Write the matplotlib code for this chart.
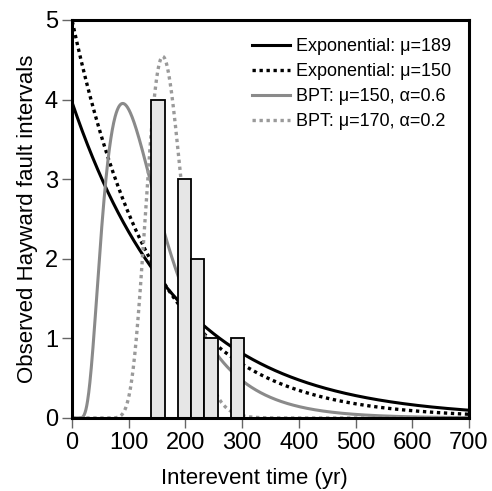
import numpy as np
import matplotlib
matplotlib.use("Agg")
import matplotlib.pyplot as plt

plt.rcParams['font.family'] = ['Liberation Sans', 'DejaVu Sans']

# Observed interval histogram (bins of 700/30 yr)
bin_width = 700 / 30
bar_left = [140, 186.67, 210, 233.33, 280]
bar_counts = [4, 3, 2, 1, 1]

# Model curves: means, BPT aperiodicity, vertical scale
exp_means = [189, 150]
exp_scale = [750, 750]
bpt_means = [150, 170]
bpt_alphas = [0.6, 0.2]
bpt_scale = [600, 370]

t = np.linspace(0.5, 700, 1400)


def bpt_pdf(t, mu, a):
    return np.sqrt(mu / (2 * np.pi * a**2 * t**3)) * np.exp(-(t - mu)**2 / (2 * mu * a**2 * t))


fig = plt.figure(figsize=(4.92, 4.91), dpi=100)
ax = fig.add_axes([72 / 492, 1 - 418 / 491, 397 / 492, 398 / 491])

ax.plot(t, exp_scale[0] / exp_means[0] * np.exp(-t / exp_means[0]),
        color='black', lw=2.2, label=f"Exponential: \u03bc={exp_means[0]}")
ax.plot(t, exp_scale[1] / exp_means[1] * np.exp(-t / exp_means[1]),
        color='black', lw=2.4, ls=(0, (1, 1.1)), label=f"Exponential: \u03bc={exp_means[1]}")
ax.plot(t, bpt_scale[0] * bpt_pdf(t, bpt_means[0], bpt_alphas[0]),
        color='#8a8a8a', lw=2.2, label=f"BPT: \u03bc={bpt_means[0]}, \u03b1={bpt_alphas[0]}")
ax.plot(t, bpt_scale[1] * bpt_pdf(t, bpt_means[1], bpt_alphas[1]),
        color='#9a9a9a', lw=2.4, ls=(0, (1, 1.1)), label=f"BPT: \u03bc={bpt_means[1]}, \u03b1={bpt_alphas[1]}")

ax.bar(bar_left, bar_counts, width=bin_width, align='edge',
       color='#e6e6e6', edgecolor='black', linewidth=1.3, zorder=3)

ax.set_xlim(0, 700)
ax.set_ylim(0, 5)
ax.set_xticks(range(0, 701, 100))
ax.set_yticks(range(0, 6))
ax.tick_params(direction='out', length=7, width=1, color='#666666', labelsize=17, pad=3)
for s in ax.spines.values():
    s.set_linewidth(2.2)
    s.set_zorder(5)

ax.set_xlabel("Interevent time (yr)", fontsize=16)
ax.xaxis.set_label_coords(0.46, -0.125)
ax.set_ylabel("Observed Hayward fault intervals", fontsize=16, labelpad=5)

ax.legend(loc='upper right', frameon=False, fontsize=13, handlelength=2.1,
          handletextpad=0.3, labelspacing=0.45, borderaxespad=0.6)

fig.savefig("out.png", dpi=100)
